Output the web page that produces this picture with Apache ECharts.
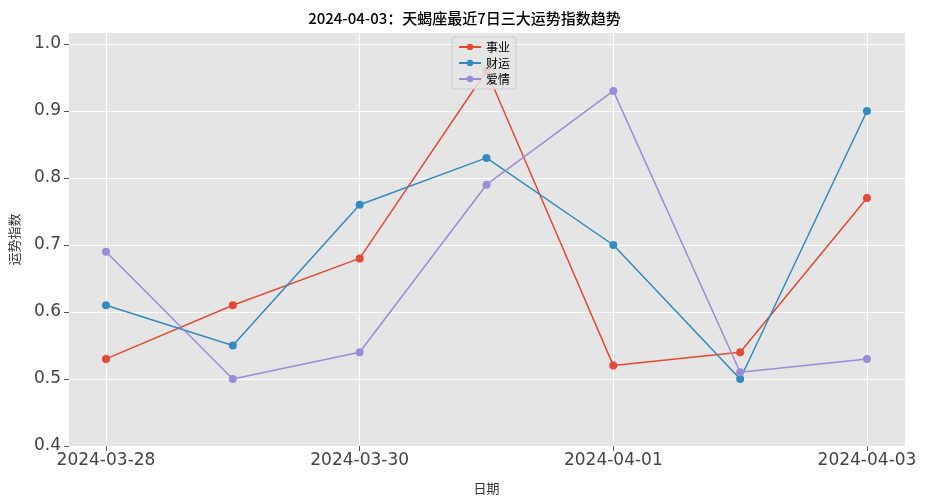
<!DOCTYPE html>
<html><head><meta charset="utf-8">
<script src="https://cdn.jsdelivr.net/npm/echarts@6/dist/echarts.min.js"></script>
<style>html,body{margin:0;padding:0;background:#fff}#c{width:929px;height:500px}</style>
</head><body><div id="c"></div>
<script>
const categories = ['2024-03-28','2024-03-29','2024-03-30','2024-03-31','2024-04-01','2024-04-02','2024-04-03'];
const career = [0.53,0.61,0.68,0.96,0.52,0.54,0.77];
const wealth = [0.61,0.55,0.76,0.83,0.70,0.50,0.90];
const love = [0.69,0.50,0.54,0.79,0.93,0.51,0.53];
const yTicks = [0.4,0.5,0.6,0.7,0.8,0.9,1.0];
const font = '"Noto Sans CJK SC", "DejaVu Sans", sans-serif';
const numFont = '"DejaVu Sans", sans-serif';
const chart = echarts.init(document.getElementById('c'));
const yMin = 0.4, yMax = 1.0164;
const mk = (name, data, color) => ({
  name, type: 'line', data, xAxisIndex: 1, yAxisIndex: 1,
  symbol: 'circle', symbolSize: 8, lineStyle: {color, width: 1.5},
  itemStyle: {color}, animation: false
});
chart.setOption({
  animation: false,
  title: {text: '2024-04-03：天蝎座最近7日三大运势指数趋势', left: 'center', top: 6,
    textStyle: {fontFamily: font, fontSize: 15, fontWeight: 500, color: '#000'}},
  legend: {orient: 'vertical', left: 452, top: 37, itemGap: 4, itemWidth: 22, itemHeight: 8,
    backgroundColor: 'rgba(229,229,229,0.85)', borderColor: '#ccc', borderWidth: 1, borderRadius: 3,
    padding: [4, 6], textStyle: {fontFamily: font, fontSize: 12, color: '#000'},
    data: ['事业','财运','爱情']},
  grid: [
    {left: 68, right: 24, top: 33, bottom: 54, show: true, backgroundColor: '#E5E5E5', borderWidth: 0},
    {left: 106, right: 62, top: 33, bottom: 54}
  ],
  xAxis: [
    {type: 'value', gridIndex: 0, min: 0, max: 1, show: false},
    {type: 'category', gridIndex: 1, data: categories, boundaryGap: false,
      name: '日期', nameLocation: 'middle', nameGap: 36,
      nameTextStyle: {fontFamily: font, fontSize: 13, color: '#333'},
      axisLine: {show: false}, axisTick: {show: true, length: 5, lineStyle: {color: '#555'}},
      axisLabel: {fontFamily: numFont, fontSize: 17, color: '#444', margin: 6},
      splitLine: {show: true, lineStyle: {color: '#fff', width: 1}}}
  ],
  yAxis: [
    {type: 'value', gridIndex: 0, min: yMin, max: yMax,
      name: '运势指数', nameLocation: 'middle', nameGap: 48,
      nameTextStyle: {fontFamily: font, fontSize: 13, color: '#333'},
      axisLine: {show: false},
      axisTick: {show: true, length: 5, lineStyle: {color: '#555'}, customValues: yTicks},
      axisLabel: {fontFamily: numFont, fontSize: 17, color: '#444', margin: 8,
        customValues: yTicks, formatter: v => v.toFixed(1)},
      splitLine: {show: true, lineStyle: {color: '#fff', width: 1}}},
    {type: 'value', gridIndex: 1, min: yMin, max: yMax, show: false, splitLine: {show: false}}
  ],
  series: [mk('事业', career, '#E24A33'), mk('财运', wealth, '#348ABD'), mk('爱情', love, '#988ED5')]
});
</script></body></html>
